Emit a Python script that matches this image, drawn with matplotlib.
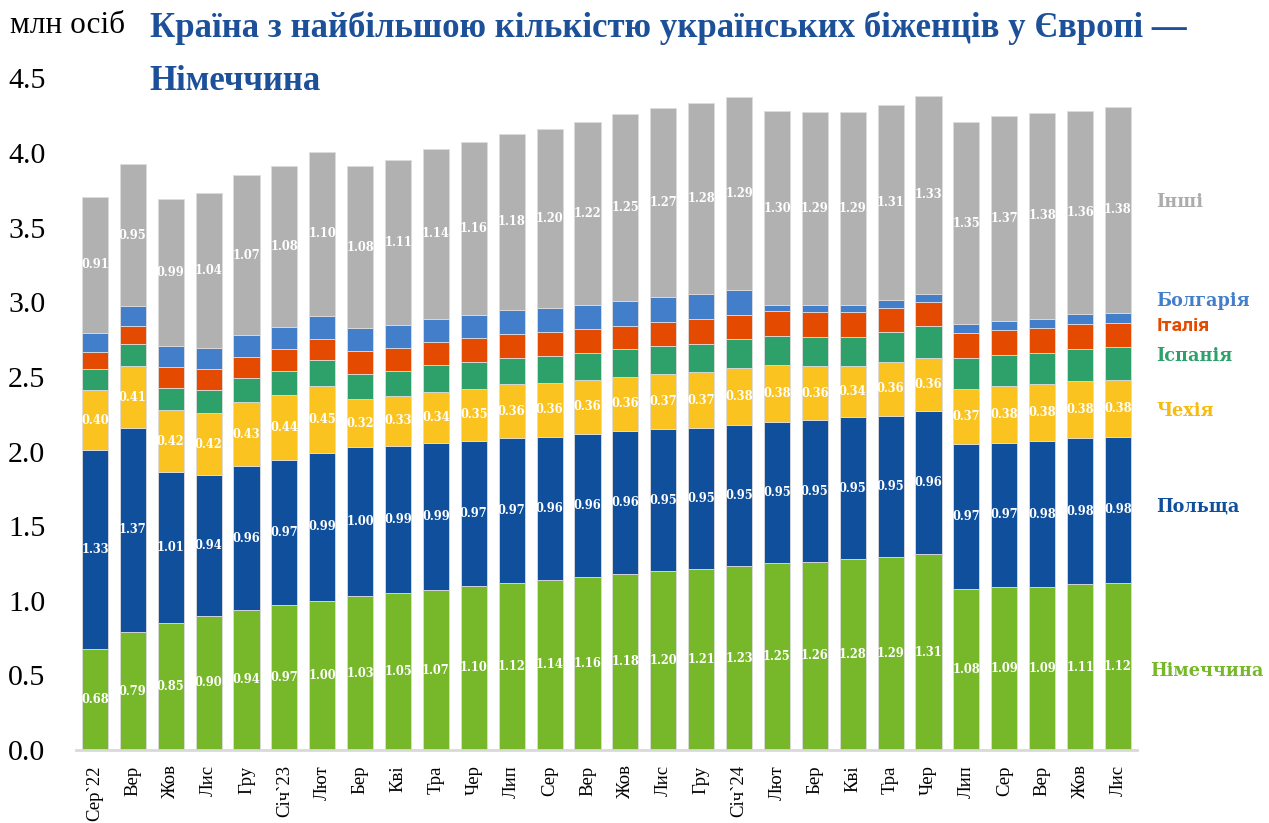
import numpy as np
import matplotlib
matplotlib.use("Agg")
import matplotlib.pyplot as plt

months = ["Сер`22", "Вер", "Жов", "Лис", "Гру", "Січ`23", "Лют", "Бер", "Кві", "Тра",
          "Чер", "Лип", "Сер", "Вер", "Жов", "Лис", "Гру", "Січ`24", "Лют", "Бер",
          "Кві", "Тра", "Чер", "Лип", "Сер", "Вер", "Жов", "Лис"]

germany = [0.68, 0.79, 0.85, 0.90, 0.94, 0.97, 1.00, 1.03, 1.05, 1.07, 1.10, 1.12, 1.14, 1.16,
           1.18, 1.20, 1.21, 1.23, 1.25, 1.26, 1.28, 1.29, 1.31, 1.08, 1.09, 1.09, 1.11, 1.12]
poland = [1.33, 1.37, 1.01, 0.94, 0.96, 0.97, 0.99, 1.00, 0.99, 0.99, 0.97, 0.97, 0.96, 0.96,
          0.96, 0.95, 0.95, 0.95, 0.95, 0.95, 0.95, 0.95, 0.96, 0.97, 0.97, 0.98, 0.98, 0.98]
czechia = [0.40, 0.41, 0.42, 0.42, 0.43, 0.44, 0.45, 0.32, 0.33, 0.34, 0.35, 0.36, 0.36, 0.36,
           0.36, 0.37, 0.37, 0.38, 0.38, 0.36, 0.34, 0.36, 0.36, 0.37, 0.38, 0.38, 0.38, 0.38]
spain = [0.14, 0.15, 0.145, 0.15, 0.16, 0.16, 0.17, 0.17, 0.17, 0.18, 0.18, 0.18, 0.18, 0.18,
         0.185, 0.19, 0.19, 0.195, 0.195, 0.20, 0.20, 0.20, 0.21, 0.205, 0.21, 0.21, 0.215, 0.22]
italy = [0.12, 0.12, 0.14, 0.145, 0.145, 0.145, 0.145, 0.155, 0.155, 0.155, 0.16, 0.16, 0.16, 0.16,
         0.155, 0.16, 0.165, 0.16, 0.165, 0.165, 0.165, 0.165, 0.16, 0.17, 0.165, 0.165, 0.17, 0.16]
bulgaria = [0.125, 0.135, 0.14, 0.14, 0.145, 0.15, 0.155, 0.155, 0.15, 0.155, 0.155, 0.16, 0.16, 0.165,
            0.17, 0.165, 0.17, 0.17, 0.04, 0.05, 0.05, 0.05, 0.055, 0.06, 0.06, 0.065, 0.065, 0.07]
others = [0.91, 0.95, 0.99, 1.04, 1.07, 1.08, 1.10, 1.08, 1.11, 1.14, 1.16, 1.18, 1.20, 1.22,
          1.25, 1.27, 1.28, 1.29, 1.30, 1.29, 1.29, 1.31, 1.33, 1.35, 1.37, 1.38, 1.36, 1.38]

series = [
    ("Німеччина", germany, "#76B82A", True),
    ("Польща", poland, "#0F4F9B", True),
    ("Чехія", czechia, "#FAC31F", True),
    ("Іспанія", spain, "#2EA06A", False),
    ("Італія", italy, "#E44B00", False),
    ("Болгарія", bulgaria, "#427EC9", False),
    ("Інші", others, "#B1B1B1", True),
]
# y position (in data units) of the series names on the right
name_y = {"Німеччина": 0.53, "Польща": 1.63, "Чехія": 2.27, "Іспанія": 2.64,
          "Італія": 2.84, "Болгарія": 3.01, "Інші": 3.67}
name_colors = {"Чехія": "#F5BB12", "Інші": "#ACACAC"}

serif = ["Liberation Serif", "DejaVu Serif"]
slab = ["DejaVu Serif"]
plt.rcParams["font.family"] = serif

fig = plt.figure(figsize=(12.69, 8.23), dpi=100)
ax = fig.add_axes([0.0599, 0.0887, 0.836, 0.816])

x = np.arange(len(months))
bottom = np.zeros(len(months))
for name, vals, color, labelled in series:
    vals = np.array(vals)
    ax.bar(x, vals, 0.69, bottom=bottom, color=color, edgecolor="#DCDCDC", linewidth=0.6)
    if labelled:
        for xi, b, v in zip(x, bottom, vals):
            ax.text(xi, b + v / 2, f"{v:.2f}", ha="center", va="center", color="white",
                    fontsize=8.3, fontweight="bold", family=slab)
    if name == "Італія":
        fam, size = ["Roboto"], 14
    else:
        fam, size = slab, 12.7
    ax.text(27.85 if name == "Німеччина" else 28.02, name_y[name], name,
            color=name_colors.get(name, color), fontsize=size, fontweight="bold",
            family=fam, ha="left", va="center", clip_on=False)
    bottom += vals

ax.set_xlim(-0.5, 27.5)
ax.set_ylim(0, 4.5)
ax.set_yticks(np.arange(0, 4.51, 0.5))
ax.set_yticklabels([f"{v:.1f}" for v in np.arange(0, 4.51, 0.5)], fontsize=21.5)
ax.set_xticks(x)
ax.set_xticklabels(months, rotation=90, fontsize=13.5, va="top")
ax.tick_params(axis="y", length=0, pad=22)
ax.tick_params(axis="x", length=0, pad=11)
for side in ["top", "right", "left"]:
    ax.spines[side].set_visible(False)
ax.spines["bottom"].set_color("#D9D9D9")
ax.spines["bottom"].set_linewidth(2)

fig.text(0.008, 0.96, "млн осіб", fontsize=22.5, ha="left", va="baseline")
title_kw = dict(fontsize=25, fontweight="bold", color="#1C5099", ha="left", va="baseline")
fig.text(0.118, 0.955, "Країна з найбільшою кількістю українських біженців у Європі —", **title_kw)
fig.text(0.118, 0.8906, "Німеччина", **title_kw)

fig.savefig("out.png", dpi=100)
